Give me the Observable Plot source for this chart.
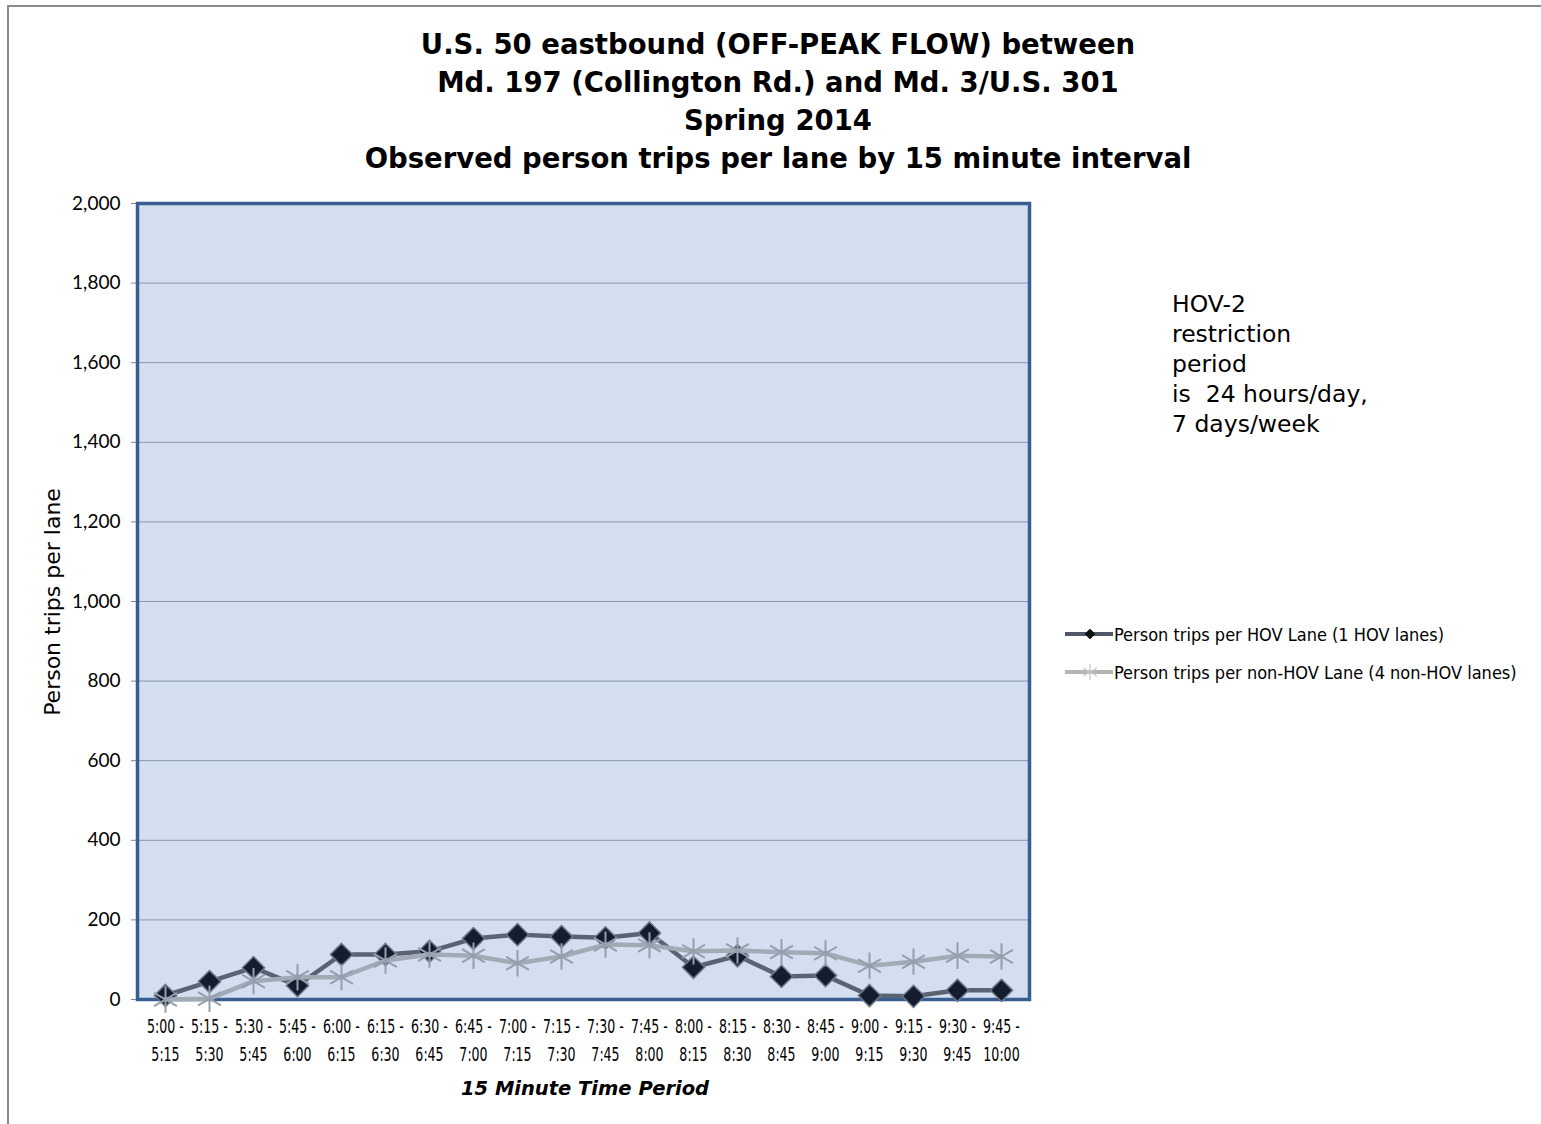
<!DOCTYPE html>
<html>
<head>
<meta charset="utf-8">
<script src="https://cdn.jsdelivr.net/npm/d3@7"></script>
<script src="https://cdn.jsdelivr.net/npm/@observablehq/plot@0.6"></script>
<style>
  html, body { margin: 0; padding: 0; background: #fff; }
  #page { position: relative; width: 1541px; height: 1124px; overflow: hidden; }
  #border { position: absolute; left: 7px; top: 5px; width: 1600px; height: 1200px;
            border-left: 2px solid #8a8a8a; border-top: 2px solid #8a8a8a; }
  #chart { position: absolute; left: 0; top: 0; }
  .title { position: absolute; left: 0; width: 1556px; text-align: center;
           font-family: "DejaVu Sans", sans-serif; font-weight: bold;
           font-size: 27.5px; line-height: 38px; color: #000; top: 25px; }
  .ylab { position: absolute; left: 52px; top: 602px; transform: translate(-50%,-50%) rotate(-90deg);
          white-space: nowrap; font-family: "DejaVu Sans", sans-serif; font-size: 22px; color: #000; }
  .xlab { position: absolute; left: 585px; top: 1088px; transform: translate(-50%,-50%);
          white-space: nowrap; font-family: "DejaVu Sans", sans-serif; font-weight: bold; font-style: italic;
          font-size: 19.5px; color: #000; }
  .note { position: absolute; left: 1172px; top: 289px; font-family: "DejaVu Sans", sans-serif;
          font-size: 23.5px; line-height: 30px; color: #000; white-space: nowrap; }
  .legend { position: absolute; left: 1065px; top: 615px; font-family: "DejaVu Sans Condensed", "DejaVu Sans", sans-serif;
            font-size: 18px; color: #000; }
  .legend .row { display: flex; align-items: center; height: 38px; white-space: nowrap; }
  .legend svg { margin-right: 1px; }
</style>
</head>
<body>
<div id="page">
  <div id="border"></div>
  <div id="chart"></div>
  <div class="title">U.S. 50 eastbound (OFF-PEAK FLOW) between<br>Md. 197 (Collington Rd.) and Md. 3/U.S. 301<br>Spring 2014<br>Observed person trips per lane by 15 minute interval</div>
  <div class="ylab">Person trips per lane</div>
  <div class="xlab">15 Minute Time Period</div>
  <div class="note">HOV-2<br>restriction<br>period<br>is &nbsp;24 hours/day,<br>7 days/week</div>
  <div class="legend" id="legend"></div>
</div>
<script>
// ---- Data ----
const periods = ["5:00 - 5:15","5:15 - 5:30","5:30 - 5:45","5:45 - 6:00","6:00 - 6:15","6:15 - 6:30","6:30 - 6:45","6:45 - 7:00","7:00 - 7:15","7:15 - 7:30","7:30 - 7:45","7:45 - 8:00","8:00 - 8:15","8:15 - 8:30","8:30 - 8:45","8:45 - 9:00","9:00 - 9:15","9:15 - 9:30","9:30 - 9:45","9:45 - 10:00"];
const hovTrips    = [10, 45, 80, 35, 113, 113, 121, 153, 163, 158, 155, 167, 81, 110, 58, 60, 10, 8, 23, 23];
const nonHovTrips = [0, 2, 46, 56, 56, 98, 113, 110, 91, 108, 138, 136, 121, 123, 119, 116, 85, 95, 110, 108];
const seriesNames = ["Person trips per HOV Lane (1 HOV lanes)", "Person trips per non-HOV Lane (4 non-HOV lanes)"];
const yTicks = [0, 200, 400, 600, 800, 1000, 1200, 1400, 1600, 1800, 2000];

const hovData = periods.map((p, i) => ({period: p, value: hovTrips[i]}));
const nonData = periods.map((p, i) => ({period: p, value: nonHovTrips[i]}));

const HOV_LINE = "#5b6372", HOV_FILL = "#141d30", HOV_STROKE = "#6d7685";
const NON_LINE = "#a2aab6", NON_MARK = "#959eac";

const chart = Plot.plot({
  width: 1541,
  height: 1124,
  marginLeft: 137,
  marginRight: 512,
  marginTop: 203,
  marginBottom: 125,
  style: {background: "transparent", overflow: "visible"},
  x: {type: "point", domain: periods, padding: 0.5},
  y: {domain: [0, 2000]},
  marks: [
    Plot.frame({fill: "#d3dff0", stroke: null}),
    Plot.gridY(yTicks.filter(d => d > 0 && d < 2000), {stroke: "#8796ad", strokeOpacity: 1, strokeWidth: 1}),
    Plot.ruleY([0], {stroke: "#9aa0a8", strokeWidth: 2}),
    Plot.axisY(yTicks, {tickFormat: d3.format(","), tickSize: 6, tickPadding: 11, fontSize: 19,
      fontFamily: "Lato, 'Open Sans', sans-serif", label: null, stroke: "#7d8794"}),
    Plot.axisX({tickSize: 0, tickPadding: 14, fontSize: 20, lineHeight: 1.38,
      fontFamily: "'DejaVu Sans Condensed', 'DejaVu Sans', sans-serif",
      tickFormat: d => d.replace(" - ", " -\n"), label: null}),
    Plot.frame({stroke: "#3a5d91", strokeWidth: 3.5}),
    Plot.line(hovData, {x: "period", y: "value", stroke: HOV_LINE, strokeWidth: 4.5}),
    Plot.dot(hovData, {x: "period", y: "value", symbol: "diamond2", r: 10, fill: HOV_FILL, stroke: HOV_STROKE, strokeWidth: 1.5}),
    Plot.line(nonData, {x: "period", y: "value", stroke: NON_LINE, strokeWidth: 4.5}),
    Plot.dot(nonData, {x: "period", y: "value", symbol: "asterisk", r: 12.5, stroke: NON_MARK, strokeWidth: 2})
  ]
});
document.getElementById("chart").appendChild(chart);

// condense the x tick labels horizontally (reference uses a very narrow face)
d3.select(chart).selectAll('g[aria-label="x-axis tick label"] text').each(function() {
  const t = this.getAttribute("transform") || "";
  this.setAttribute("transform", t + " scale(0.7,1)");
});

// ---- Legend ----
const legend = d3.select("#legend");
const specs = [
  {name: seriesNames[0], line: "#505866", sym: d3.symbolDiamond2, size: 60, fill: "#111", stroke: "#111", sw: 1},
  {name: seriesNames[1], line: "#b4b4b4", sym: d3.symbolAsterisk, size: 180, fill: "none", stroke: "#c8c8c8", sw: 1.3}
];
specs.forEach(s => {
  const row = legend.append("div").attr("class", "row");
  const svg = row.append("svg").attr("width", 48).attr("height", 24);
  svg.append("line").attr("x1", 0).attr("x2", 48).attr("y1", 12).attr("y2", 12)
     .attr("stroke", s.line).attr("stroke-width", 4);
  svg.append("path").attr("transform", "translate(25,12)")
     .attr("d", d3.symbol(s.sym, s.size)())
     .attr("fill", s.fill).attr("stroke", s.stroke).attr("stroke-width", s.sw);
  row.append("span").text(s.name);
});
</script>
</body>
</html>
